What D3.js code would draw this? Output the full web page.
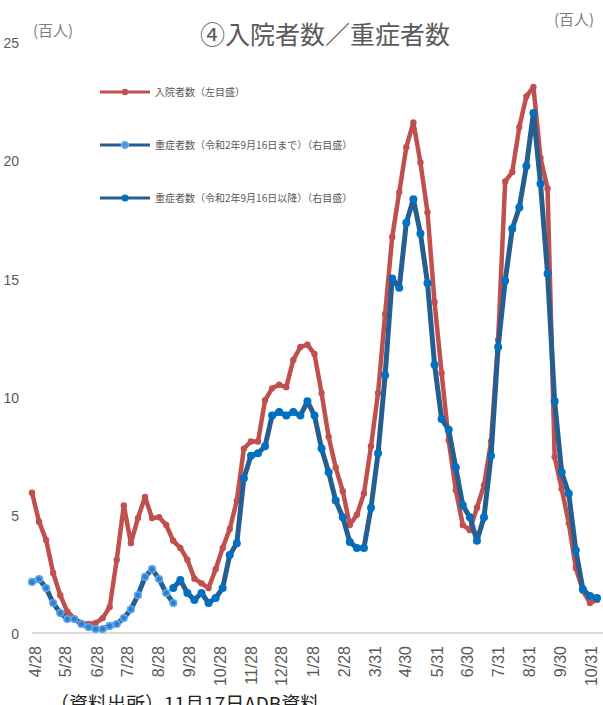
<!DOCTYPE html>
<html>
<head>
<meta charset="utf-8">
<script src="https://cdn.jsdelivr.net/npm/d3@7"></script>
<style>
body { margin: 0; background: #fff; }
svg { display: block; font-family: "Noto Sans CJK JP", "Noto Sans", sans-serif; }
.axis text { fill: #595959; font-family: "Liberation Sans", Arial, sans-serif; }
</style>
</head>
<body>
<svg class="chart"></svg>
<script>
// Weekly survey dates (Wednesdays)
var dates = [
    "2020-04-29", "2020-05-06", "2020-05-13", "2020-05-20", "2020-05-27", "2020-06-03", "2020-06-10",
    "2020-06-17", "2020-06-24", "2020-07-01", "2020-07-08", "2020-07-15", "2020-07-22", "2020-07-29",
    "2020-08-05", "2020-08-12", "2020-08-19", "2020-08-26", "2020-09-02", "2020-09-09", "2020-09-16",
    "2020-09-23", "2020-09-30", "2020-10-07", "2020-10-14", "2020-10-21", "2020-10-28", "2020-11-04",
    "2020-11-11", "2020-11-18", "2020-11-25", "2020-12-02", "2020-12-09", "2020-12-16", "2020-12-23",
    "2020-12-30", "2021-01-06", "2021-01-13", "2021-01-20", "2021-01-27", "2021-02-03", "2021-02-10",
    "2021-02-17", "2021-02-24", "2021-03-03", "2021-03-10", "2021-03-17", "2021-03-24", "2021-03-31",
    "2021-04-07", "2021-04-14", "2021-04-21", "2021-04-28", "2021-05-05", "2021-05-12", "2021-05-19",
    "2021-05-26", "2021-06-02", "2021-06-09", "2021-06-16", "2021-06-23", "2021-06-30", "2021-07-07",
    "2021-07-14", "2021-07-21", "2021-07-28", "2021-08-04", "2021-08-11", "2021-08-18", "2021-08-25",
    "2021-09-01", "2021-09-08", "2021-09-15", "2021-09-22", "2021-09-29", "2021-10-06", "2021-10-13",
    "2021-10-20", "2021-10-27", "2021-11-03", "2021-11-10"
];

// 入院者数 (hundreds)
var inpatients = [
    5.93, 4.71, 3.93, 2.54, 1.6, 0.9, 0.63, 0.42, 0.38, 0.42,
    0.63, 1.1, 3.1, 5.4, 3.8, 4.86, 5.76, 4.86, 4.9, 4.57,
    3.9, 3.6, 3.1, 2.3, 2.1, 1.9, 2.7, 3.6, 4.4, 5.6,
    7.8, 8.1, 8.1, 9.85, 10.35, 10.5, 10.4, 11.55, 12.1, 12.2,
    11.8, 10.15, 8.3, 7.0, 6.0, 4.57, 5.0, 5.9, 7.9, 10.15,
    13.5, 16.75, 18.65, 20.55, 21.6, 19.9, 17.8, 14.0, 11.0, 8.15,
    6.05, 4.57, 4.35, 5.3, 6.25, 8.1, 12.4, 19.1, 19.5, 21.4,
    22.7, 23.1, 20.1, 18.8, 7.45, 6.1, 4.65, 2.75, 1.78, 1.27, 1.4
];

// 重症者数 until 2020-09-16 (old definition)
var severeOld = [
    2.16, 2.28, 1.9, 1.27, 0.85, 0.59, 0.59, 0.38, 0.25, 0.17,
    0.17, 0.3, 0.38, 0.63, 1.0, 1.6, 2.37, 2.7, 2.28, 1.69, 1.27
];

// 重症者数 from 2020-09-16 (new definition)
var severeNewStart = "2020-09-16";
var severeNew = [
    1.9, 2.24, 1.69, 1.4, 1.69, 1.27, 1.48, 1.9, 3.3, 3.8,
    6.55, 7.5, 7.6, 7.9, 9.2, 9.35, 9.2, 9.35, 9.2, 9.8,
    9.2, 7.8, 6.8, 5.6, 4.9, 3.85, 3.6, 3.6, 5.3, 7.6,
    10.9, 15.0, 14.6, 17.35, 18.35, 16.9, 14.8, 11.35, 9.05, 8.6,
    7.0, 5.4, 4.9, 3.9, 4.9, 7.5, 12.1, 14.9, 17.1, 18.0,
    19.75, 22.0, 19.0, 15.2, 9.8, 6.8, 5.9, 3.5, 1.85, 1.56, 1.48
];

var tickDates = [
    "2020-04-28", "2020-05-28", "2020-06-28", "2020-07-28", "2020-08-28", "2020-09-28", "2020-10-28",
    "2020-11-28", "2020-12-28", "2021-01-28", "2021-02-28", "2021-03-31", "2021-04-30", "2021-05-31",
    "2021-06-30", "2021-07-31", "2021-08-31", "2021-09-30", "2021-10-31"
];
var yTicks = [0, 5, 10, 15, 20, 25];

var legendLabels = [
    "入院者数（左目盛）",
    "重症者数（令和2年9月16日まで）（右目盛）",
    "重症者数（令和2年9月16日以降）（右目盛）"
];

// Margins
var margin = { top: 42, right: 5, bottom: 72, left: 32 },
    width = 603 - margin.left - margin.right,
    height = 705 - margin.top - margin.bottom;

var parse = d3.timeParse("%Y-%m-%d");

var svg = d3.select(".chart")
    .attr("width", 603)
    .attr("height", 705);

var chart = svg.append("g")
    .attr("transform", "translate(" + margin.left + "," + margin.top + ")");

var x = d3.scaleTime()
    .domain([parse(dates[0]), parse(dates[dates.length - 1])])
    .range([0, width - 1]);

var y = d3.scaleLinear()
    .domain([0, 25])
    .range([height, 0]);

// Series tables
var startNew = dates.indexOf(severeNewStart);
var redData = inpatients.map(function (v, i) { return { date: parse(dates[i]), value: v }; });
var oldData = severeOld.map(function (v, i) { return { date: parse(dates[i]), value: v }; });
var newData = severeNew.map(function (v, i) { return { date: parse(dates[startNew + i]), value: v }; });

// Baseline
chart.append("line")
    .attr("x1", 0)
    .attr("x2", width + margin.right)
    .attr("y1", y(0))
    .attr("y2", y(0))
    .attr("stroke", "#d9d9d9")
    .attr("stroke-width", 2);

// Y labels
var yAxis = chart.append("g")
    .attr("class", "axis")
    .call(d3.axisLeft(y).tickValues(yTicks).tickSize(0).tickPadding(13));
yAxis.select(".domain").remove();
yAxis.selectAll("text")
    .attr("dy", "0.4em")
    .style("font-size", "14px");

// X labels, rotated
var xAxis = chart.append("g")
    .attr("class", "axis")
    .attr("transform", "translate(0," + height + ")")
    .call(d3.axisBottom(x).tickValues(tickDates.map(parse)).tickFormat(d3.timeFormat("%-m/%-d")).tickSize(0));
xAxis.select(".domain").remove();
xAxis.selectAll("text")
    .attr("transform", "rotate(-90)")
    .attr("text-anchor", "end")
    .attr("x", -13)
    .attr("y", 4)
    .attr("dy", "0.35em")
    .style("font-size", "16px");

var line = d3.line()
    .x(function (d) { return x(d.date); })
    .y(function (d) { return y(d.value); });

// 入院者数
chart.append("path")
    .datum(redData)
    .attr("fill", "none")
    .attr("stroke", "#c0504d")
    .attr("stroke-width", 4.5)
    .attr("stroke-linejoin", "round")
    .attr("d", line);
chart.selectAll(".dot-red")
    .data(redData)
    .enter().append("circle")
    .attr("class", "dot-red")
    .attr("cx", function (d) { return x(d.date); })
    .attr("cy", function (d) { return y(d.value); })
    .attr("r", 3.2)
    .attr("fill", "#c0504d");

// 重症者数 (old)
chart.append("path")
    .datum(oldData)
    .attr("fill", "none")
    .attr("stroke", "#255e91")
    .attr("stroke-width", 5)
    .attr("stroke-linejoin", "round")
    .attr("d", line);
chart.selectAll(".dot-old")
    .data(oldData)
    .enter().append("circle")
    .attr("class", "dot-old")
    .attr("cx", function (d) { return x(d.date); })
    .attr("cy", function (d) { return y(d.value); })
    .attr("r", 3.3)
    .attr("fill", "#2b7fd0")
    .attr("stroke", "#5fa6e8")
    .attr("stroke-width", 1.6);

// 重症者数 (new)
chart.append("path")
    .datum(newData)
    .attr("fill", "none")
    .attr("stroke", "#255e91")
    .attr("stroke-width", 5)
    .attr("stroke-linejoin", "round")
    .attr("d", line);
chart.selectAll(".dot-new")
    .data(newData)
    .enter().append("circle")
    .attr("class", "dot-new")
    .attr("cx", function (d) { return x(d.date); })
    .attr("cy", function (d) { return y(d.value); })
    .attr("r", 4)
    .attr("fill", "#0070c0");

// Legend
var legendColors = ["#c0504d", "#255e91", "#255e91"];
var legend = svg.append("g")
    .attr("transform", "translate(100,92)");
var item = legend.selectAll(".item")
    .data(legendLabels)
    .enter().append("g")
    .attr("class", "item")
    .attr("transform", function (d, i) { return "translate(0," + (i * 53) + ")"; });
item.append("line")
    .attr("x1", 0)
    .attr("x2", 50)
    .attr("stroke", function (d, i) { return legendColors[i]; })
    .attr("stroke-width", 3);
item.append("circle")
    .attr("cx", 25)
    .attr("r", function (d, i) { return i === 0 ? 3.2 : 3.6; })
    .attr("fill", function (d, i) { return ["#c0504d", "#4f97dc", "#0070c0"][i]; })
    .attr("stroke", function (d, i) { return i === 1 ? "#7cb6ec" : "none"; })
    .attr("stroke-width", 1.2);
item.append("text")
    .attr("x", 55)
    .attr("dy", "0.35em")
    .attr("fill", "#595959")
    .style("font-size", "10px")
    .text(function (d) { return d; });

// Title and unit labels
svg.append("text")
    .attr("x", 325)
    .attr("y", 44)
    .attr("text-anchor", "middle")
    .attr("fill", "#595959")
    .style("font-size", "25px")
    .text("④入院者数／重症者数");

svg.append("text")
    .attr("x", 33)
    .attr("y", 36)
    .attr("fill", "#7f7f7f")
    .style("font-size", "15px")
    .text("(百人)");

svg.append("text")
    .attr("x", 554)
    .attr("y", 25)
    .attr("fill", "#7f7f7f")
    .style("font-size", "15px")
    .text("(百人)");

// Source note (cut off at the bottom, as in the original)
svg.append("text")
    .attr("x", 50)
    .attr("y", 711)
    .attr("fill", "#222")
    .style("font-size", "19px")
    .text("（資料出所）11月17日ADB資料");
</script>
</body>
</html>
